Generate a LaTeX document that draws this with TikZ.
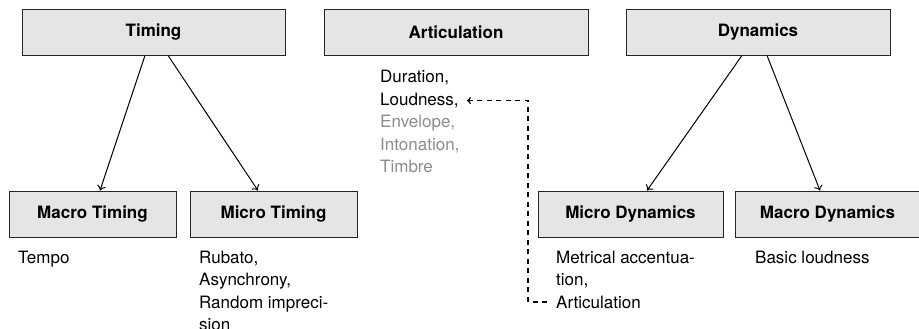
\documentclass[tikz,border=0pt]{standalone}
\usepackage{fontspec}
\setmainfont{TeX Gyre Heros}
\usetikzlibrary{arrows.meta}
\begin{document}
\begin{tikzpicture}[x=1pt,y=-1pt,
  box/.style={draw=black!85, fill=black!10, line width=0.9pt, minimum height=46pt,
    inner sep=0pt, font=\fontsize{17}{20}\selectfont\bfseries},
  topbox/.style={box, minimum width=263pt},
  smallbox/.style={box, minimum width=167pt},
  widebox/.style={box, minimum width=185pt},
  lbl/.style={anchor=base west, inner sep=0pt, font=\fontsize{17}{20}\selectfont},
  greylbl/.style={lbl, text=black!45},
  arr/.style={-{To[length=5pt,width=9pt]}, line width=1pt},
  dasharr/.style={-{To[length=4pt,width=7pt]}, line width=1.2pt, dash pattern=on 5pt off 4.5pt}]
\useasboundingbox (0,0) rectangle (919,329);

% top boxes
\node[topbox] (timing) at (153.5,32) {Timing};
\node[topbox, minimum width=264pt] (artic) at (456,32) {Articulation};
\node[topbox, minimum width=264pt] (dyn) at (758,32) {Dynamics};

% bottom boxes
\node[smallbox] (macrot) at (92.5,214) {Macro Timing};
\node[smallbox] (microt) at (273.5,214) {Micro Timing};
\node[widebox] (microd) at (630.5,214) {Micro Dynamics};
\node[widebox] (macrod) at (827.5,214) {Macro Dynamics};

% articulation texts
\node[lbl] (dur) at (380,83) {Duration,};
\node[lbl] (loud) at (380,105.5) {Loudness,};
\node[greylbl] (env) at (380,127.8) {Envelope,};
\node[greylbl] (inton) at (380,150) {Intonation,};
\node[greylbl] (timbre) at (380,172.3) {Timbre};

% bottom texts
\node[lbl] (tempo) at (18,263) {Tempo};
\node[lbl] (rub) at (199,263) {Rubato,};
\node[lbl] (async) at (199,285.5) {Asynchrony,};
\node[lbl] (rand) at (199,308) {Random impreci-};
\node[lbl] (sion) at (199,330.5) {sion};
\node[lbl] (metr) at (556,263) {Metrical accentua-};
\node[lbl] (tion) at (556,285.5) {tion,};
\node[lbl] (articl) at (556,308) {Articulation};
\node[lbl] (basic) at (755,263) {Basic loudness};

% connectors
\draw[arr] ([xshift=-8.5pt]timing.south) -- ([xshift=7.5pt]macrot.north);
\draw[arr] ([xshift=14.5pt]timing.south) -- ([xshift=-15.5pt]microt.north);
\draw[arr] ([xshift=-16pt]dyn.south) -- ([xshift=16.5pt]microd.north);
\draw[arr] ([xshift=9pt]dyn.south) -- ([xshift=-7.5pt]macrod.north);

\coordinate (turn) at (528,100);
\draw[dasharr] ([xshift=-9pt]articl.west) -| (turn |- loud.east) -- ([xshift=8pt]loud.east);
\end{tikzpicture}
\end{document}
